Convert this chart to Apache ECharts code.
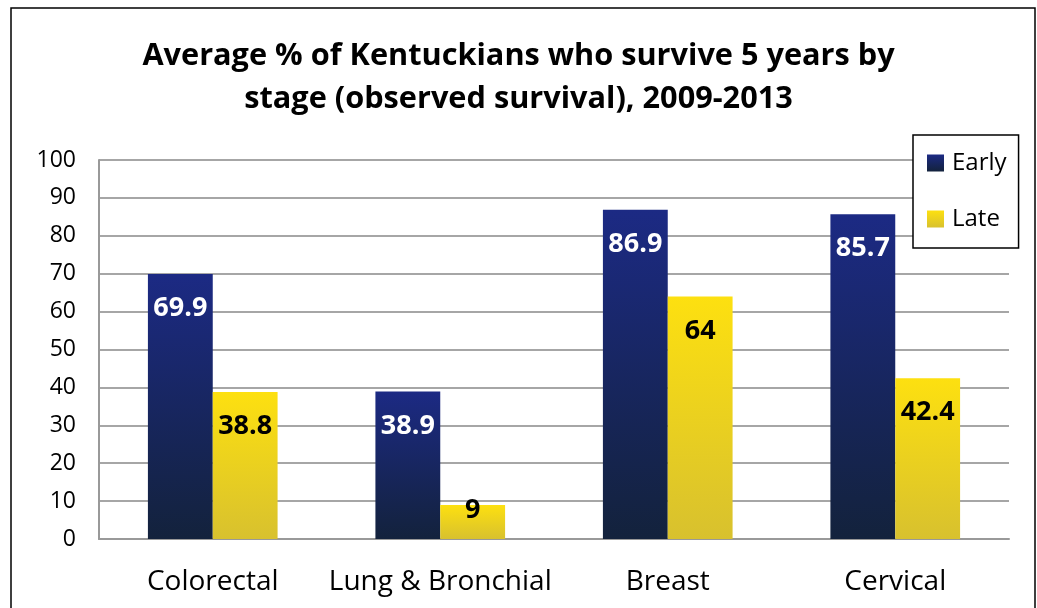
<!DOCTYPE html>
<html>
<head>
<meta charset="utf-8">
<script src="https://cdn.jsdelivr.net/npm/echarts@6/dist/echarts.min.js"></script>
<style>
html,body{margin:0;padding:0;background:#fff;}
#chart{width:1037px;height:608px;}
</style>
</head>
<body>
<div id="chart"></div>
<script>
var categories = ['Colorectal', 'Lung & Bronchial', 'Breast', 'Cervical'];
var earlyValues = [69.9, 38.9, 86.9, 85.7];
var lateValues = [38.8, 9, 64, 42.4];
var yTicks = {min: 0, max: 100, interval: 10};
var titleText = 'Average % of Kentuckians who survive 5 years by\nstage (observed survival), 2009-2013';

var FONT = 'Open Sans';
var chart = echarts.init(document.getElementById('chart'));

function grad(top, bottom) {
  return new echarts.graphic.LinearGradient(0, 0, 0, 1, [
    {offset: 0, color: top}, {offset: 1, color: bottom}
  ]);
}

var lateData = lateValues.map(function (v) {
  if (v < 15) {
    return {value: v, label: {position: 'insideTop', distance: -8}};
  }
  return v;
});

chart.setOption({
  animation: false,
  textStyle: {fontFamily: FONT},
  graphic: [{
    type: 'rect',
    shape: {x: 11, y: 8, width: 1024, height: 640},
    style: {fill: 'none', stroke: '#000', lineWidth: 1.5},
    silent: true,
    z: 100
  }],
  title: {
    text: titleText,
    left: 'center',
    top: 30,
    textStyle: {fontFamily: FONT, fontWeight: 'bold', fontSize: 30.7, lineHeight: 43, color: '#000'}
  },
  legend: {
    orient: 'vertical',
    left: 913,
    top: 135,
    padding: [16, 12, 17, 14],
    itemGap: 32,
    itemWidth: 17,
    itemHeight: 17,
    backgroundColor: '#fff',
    borderColor: '#000',
    borderWidth: 1.5,
    icon: 'rect',
    textStyle: {fontFamily: FONT, fontSize: 24, color: '#000', padding: [0, 0, 0, 3]},
    data: ['Early', 'Late']
  },
  grid: {left: 99, right: 28, top: 160, bottom: 69, containLabel: false},
  xAxis: {
    type: 'category',
    data: categories,
    axisLine: {lineStyle: {color: '#999', width: 2}},
    axisTick: {show: false},
    axisLabel: {fontFamily: FONT, fontSize: 28, color: '#000', margin: 29, interval: 0}
  },
  yAxis: {
    type: 'value',
    min: yTicks.min,
    max: yTicks.max,
    interval: yTicks.interval,
    axisLine: {show: true, lineStyle: {color: '#999', width: 2}},
    axisTick: {show: false},
    splitLine: {lineStyle: {color: '#a6a6a6', width: 2}},
    axisLabel: {fontFamily: FONT, fontSize: 23, color: '#000', margin: 23}
  },
  series: [{
    name: 'Early',
    type: 'bar',
    data: earlyValues,
    barGap: '0%',
    barCategoryGap: '43%',
    itemStyle: {color: grad('#1c2a84', '#13223c')},
    label: {show: true, position: 'insideTop', distance: 21, color: '#fff', fontFamily: FONT, fontWeight: 'bold', fontSize: 27}
  }, {
    name: 'Late',
    type: 'bar',
    data: lateData,
    itemStyle: {color: grad('#fde010', '#d8c12e')},
    label: {show: true, position: 'insideTop', distance: 21, color: '#000', fontFamily: FONT, fontWeight: 'bold', fontSize: 27}
  }]
});
</script>
</body>
</html>
